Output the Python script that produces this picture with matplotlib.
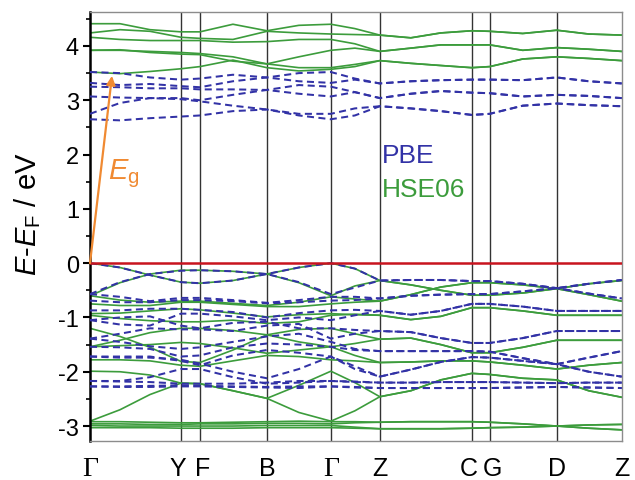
import matplotlib
matplotlib.use("Agg")
import matplotlib.pyplot as plt
import matplotlib.transforms as mtransforms
import numpy as np

plt.rcParams['font.family'] = ['Liberation Sans', 'DejaVu Sans']
plt.rcParams['mathtext.fontset'] = 'custom'
plt.rcParams['mathtext.rm'] = 'Liberation Sans'
plt.rcParams['mathtext.it'] = 'Liberation Sans:italic'
plt.rcParams['mathtext.bf'] = 'Liberation Sans:bold'

# ---------------- data ----------------
# high-symmetry points along the path (path length units)
kpt_labels = ['Γ', 'Y', 'F', 'B', 'Γ', 'Z', 'C', 'G', 'D', 'Z']
kpt_pos = [0, 91, 110, 177, 241, 290, 382, 400, 467, 532]

# k-samples at which band energies were read
k_samples = [0, 30, 60, 91, 110, 143, 177, 209, 241, 265, 290,
             321, 351, 382, 400, 433, 467, 499, 532]

# ---- conduction bands (eV) ----
hse_cb = [
    [4.41, 4.41, 4.30, 4.26, 4.26, 4.40, 4.28, 4.38, 4.40, 4.32, 4.20, 4.15, 4.24, 4.28, 4.27, 4.23, 4.29, 4.22, 4.20],
    [4.24, 4.30, 4.27, 4.16, 4.14, 4.12, 4.27, 4.24, 4.22, 4.21, 4.20, 4.15, 4.24, 4.28, 4.27, 4.23, 4.29, 4.22, 4.20],
    [4.16, 4.12, 4.10, 4.10, 4.10, 4.07, 4.08, 4.12, 4.12, 4.04, 3.90, 3.96, 4.02, 4.02, 4.02, 3.92, 3.97, 3.94, 3.90],
    [3.92, 3.93, 3.88, 3.85, 3.84, 3.72, 3.67, 3.80, 3.92, 3.96, 3.90, 3.96, 4.02, 4.02, 4.02, 3.92, 3.97, 3.94, 3.90],
    [3.92, 3.92, 3.90, 3.88, 3.86, 3.80, 3.67, 3.60, 3.60, 3.66, 3.73, 3.68, 3.64, 3.60, 3.62, 3.76, 3.80, 3.77, 3.73],
    [3.52, 3.49, 3.53, 3.58, 3.62, 3.74, 3.60, 3.54, 3.57, 3.62, 3.73, 3.68, 3.64, 3.60, 3.62, 3.76, 3.80, 3.77, 3.73],
]
pbe_cb = [
    [3.52, 3.50, 3.42, 3.38, 3.40, 3.47, 3.42, 3.50, 3.52, 3.40, 3.31, 3.35, 3.37, 3.38, 3.38, 3.37, 3.42, 3.35, 3.31],
    [3.32, 3.28, 3.30, 3.26, 3.24, 3.35, 3.42, 3.35, 3.32, 3.38, 3.31, 3.35, 3.37, 3.38, 3.38, 3.37, 3.42, 3.35, 3.31],
    [3.25, 3.24, 3.22, 3.22, 3.20, 3.20, 3.19, 3.28, 3.25, 3.15, 3.04, 3.12, 3.17, 3.14, 3.13, 3.07, 3.10, 3.08, 3.04],
    [3.07, 3.05, 3.04, 3.04, 3.00, 3.10, 3.19, 3.12, 3.07, 3.15, 3.04, 3.12, 3.17, 3.14, 3.13, 3.07, 3.10, 3.08, 3.04],
    [2.75, 2.95, 3.04, 3.02, 2.98, 2.90, 2.83, 2.75, 2.75, 2.85, 2.89, 2.85, 2.80, 2.73, 2.75, 2.90, 2.94, 2.91, 2.89],
    [2.65, 2.63, 2.67, 2.70, 2.72, 2.80, 2.83, 2.72, 2.65, 2.72, 2.89, 2.85, 2.80, 2.73, 2.75, 2.90, 2.94, 2.91, 2.89],
]

# ---- valence bands, PBE: Γ-Y-F-B-Γ-Z part (11 samples) ----
pbe_vb_left = [
    [0.00, -0.08, -0.22, -0.35, -0.37, -0.32, -0.20, -0.08, 0.00, -0.10, -0.32],
    [-0.57, -0.35, -0.20, -0.14, -0.13, -0.15, -0.20, -0.35, -0.57, -0.45, -0.32],
    [-0.57, -0.62, -0.70, -0.64, -0.64, -0.68, -0.73, -0.68, -0.62, -0.62, -0.65],
    [-0.69, -0.72, -0.72, -0.68, -0.68, -0.70, -0.74, -0.72, -0.69, -0.68, -0.65],
    [-0.87, -0.87, -0.84, -0.84, -0.86, -0.90, -1.00, -0.92, -0.87, -0.86, -0.88],
    [-1.05, -1.13, -1.15, -0.93, -0.93, -0.98, -1.05, -1.00, -1.05, -0.96, -0.88],
    [-1.05, -1.00, -0.98, -1.15, -1.20, -1.10, -1.08, -1.20, -1.20, -1.23, -1.25],
    [-1.39, -1.30, -1.20, -1.22, -1.22, -1.25, -1.15, -1.12, -1.39, -1.30, -1.25],
    [-1.39, -1.45, -1.53, -1.58, -1.55, -1.45, -1.35, -1.30, -1.45, -1.58, -1.62],
    [-1.54, -1.55, -1.58, -1.72, -1.70, -1.55, -1.48, -1.50, -1.54, -1.60, -1.62],
    [-1.72, -1.74, -1.74, -1.78, -1.85, -2.00, -2.12, -1.95, -1.72, -1.90, -2.09],
    [-1.72, -1.72, -1.72, -1.80, -1.88, -1.70, -1.60, -1.65, -1.72, -1.95, -2.09],
    [-2.17, -2.17, -2.10, -1.95, -1.95, -2.10, -2.22, -2.20, -2.17, -2.18, -2.20],
    [-2.17, -2.18, -2.19, -2.22, -2.22, -2.22, -2.20, -2.17, -2.17, -2.19, -2.20],
    [-2.27, -2.27, -2.26, -2.25, -2.26, -2.27, -2.28, -2.27, -2.27, -2.28, -2.30],
    [-2.27, -2.28, -2.28, -2.27, -2.27, -2.28, -2.29, -2.30, -2.27, -2.29, -2.30],
]
# Z-C-G-D-Z part (8 samples after Z), bands pairwise degenerate
pbe_vb_right = [
    [-0.31, -0.31, -0.33, -0.33, -0.38, -0.46, -0.56, -0.65],
    [-0.60, -0.58, -0.57, -0.57, -0.52, -0.46, -0.38, -0.31],
    [-0.95, -0.88, -0.75, -0.75, -0.80, -0.88, -0.88, -0.88],
    [-1.27, -1.38, -1.47, -1.47, -1.38, -1.25, -1.25, -1.25],
    [-1.62, -1.62, -1.62, -1.63, -1.75, -1.86, -1.74, -1.62],
    [-1.96, -1.82, -1.73, -1.74, -1.80, -1.86, -2.00, -2.09],
    [-2.20, -2.19, -2.19, -2.19, -2.20, -2.21, -2.20, -2.20],
    [-2.30, -2.30, -2.30, -2.30, -2.29, -2.28, -2.29, -2.30],
]

# ---- valence bands, HSE06 ----
hse_vb_left = [
    [0.00, -0.08, -0.22, -0.35, -0.37, -0.32, -0.20, -0.08, 0.00, -0.10, -0.32],
    [-0.60, -0.36, -0.20, -0.13, -0.13, -0.15, -0.20, -0.36, -0.60, -0.42, -0.32],
    [-0.60, -0.68, -0.72, -0.70, -0.70, -0.74, -0.78, -0.72, -0.62, -0.66, -0.70],
    [-0.75, -0.78, -0.78, -0.72, -0.72, -0.76, -0.80, -0.80, -0.75, -0.72, -0.70],
    [-0.93, -0.92, -0.88, -0.84, -0.86, -0.92, -0.99, -0.95, -0.93, -0.95, -0.96],
    [-0.96, -1.02, -1.06, -1.08, -1.08, -1.05, -1.11, -1.08, -0.96, -0.94, -0.96],
    [-1.20, -1.35, -1.55, -1.81, -1.83, -1.60, -1.32, -1.22, -1.20, -1.30, -1.40],
    [-1.54, -1.42, -1.28, -1.20, -1.20, -1.24, -1.32, -1.45, -1.54, -1.48, -1.40],
    [-1.54, -1.52, -1.50, -1.46, -1.48, -1.56, -1.66, -1.60, -1.54, -1.70, -1.83],
    [-1.78, -1.78, -1.80, -1.88, -1.90, -1.80, -1.70, -1.72, -1.78, -1.80, -1.83],
    [-1.99, -2.00, -2.06, -2.21, -2.22, -2.35, -2.49, -2.25, -1.99, -2.20, -2.46],
    [-2.91, -2.70, -2.42, -2.21, -2.22, -2.35, -2.49, -2.75, -2.91, -2.72, -2.46],
    [-2.92, -2.92, -2.93, -2.94, -2.94, -2.93, -2.92, -2.91, -2.92, -2.92, -2.93],
    [-2.96, -2.96, -2.97, -2.97, -2.96, -2.96, -2.95, -2.95, -2.96, -2.94, -2.93],
    [-2.99, -3.00, -3.00, -3.00, -3.00, -3.00, -2.99, -2.99, -2.99, -3.02, -3.05],
    [-3.03, -3.03, -3.03, -3.04, -3.04, -3.04, -3.03, -3.03, -3.03, -3.04, -3.05],
]
hse_vb_right = [
    [-0.40, -0.50, -0.59, -0.59, -0.55, -0.47, -0.58, -0.70],
    [-0.58, -0.44, -0.36, -0.36, -0.40, -0.47, -0.38, -0.32],
    [-1.04, -0.98, -0.82, -0.82, -0.88, -0.96, -0.96, -0.96],
    [-1.38, -1.50, -1.65, -1.65, -1.55, -1.42, -1.42, -1.42],
    [-1.82, -1.80, -1.80, -1.82, -1.88, -1.95, -1.88, -1.83],
    [-2.35, -2.15, -2.03, -2.05, -2.12, -2.15, -2.35, -2.47],
    [-2.92, -2.92, -2.92, -2.93, -2.96, -3.00, -2.98, -2.97],
    [-3.05, -3.05, -3.04, -3.03, -3.02, -3.00, -3.04, -3.07],
]

# band gap arrow: from VBM (Γ) to CBM
eg_start = (0, 0.0)
eg_end = (22, 3.45)

# ---------------- style ----------------
green = '#3c9c3c'
blue = '#3232a6'
red = '#c8141e'
orange = '#f08a32'

fig = plt.figure(figsize=(6.35, 4.81), dpi=100)
ax = fig.add_axes([90 / 635, 1 - 441.7 / 481, (621.7 - 90) / 635, (441.7 - 13.3) / 481])

ks = np.array(k_samples)

def full(left, right):
    return list(left) + list(right)

# HSE06 (solid green)
for b in hse_cb:
    ax.plot(ks, b, color=green, lw=1.2, solid_joinstyle='round', zorder=2)
for i, b in enumerate(hse_vb_left):
    ax.plot(ks, full(b, hse_vb_right[i // 2]), color=green, lw=1.2,
            solid_joinstyle='round', zorder=2)

# PBE (dashed blue)
dash = (0, (3.5, 2.2))
for b in pbe_cb:
    ax.plot(ks, b, color=blue, lw=1.45, ls=dash, zorder=3)
for i, b in enumerate(pbe_vb_left):
    ax.plot(ks, full(b, pbe_vb_right[i // 2]), color=blue, lw=1.45, ls=dash, zorder=3)

# high-symmetry lines
for p in kpt_pos[1:-1]:
    ax.axvline(p, color='#333333', lw=1.0, zorder=1)

# Fermi level
ax.axhline(0, color=red, lw=1.8, zorder=4)

# band-gap arrow
ax.annotate('', xy=eg_end, xytext=eg_start,
            arrowprops=dict(arrowstyle='-|>', color=orange, lw=1.6,
                            mutation_scale=13, shrinkA=0, shrinkB=0),
            zorder=5)
ax.text(0.034, 0.625, r'$E_\mathrm{g}$', color=orange, fontsize=21,
        transform=ax.transAxes, ha='left', va='center')

ax.text(0.549, 0.667, 'PBE', color=blue, fontsize=19,
        transform=ax.transAxes, ha='left', va='center')
ax.text(0.549, 0.588, 'HSE06', color=green, fontsize=19,
        transform=ax.transAxes, ha='left', va='center')

# axes
ax.set_xlim(kpt_pos[0], kpt_pos[-1])
ax.set_ylim(-3.27, 4.62)
ax.set_xticks(kpt_pos)
ax.set_xticklabels(kpt_labels, fontsize=18)
ax.tick_params(axis='x', length=0, pad=11)
# nudge the crowded neighbouring labels (Y|F and C|G) apart
shifts = {1: -3, 2: 3, 6: -3, 7: 3}
for i, lab in enumerate(ax.get_xticklabels()):
    if lab.get_text() == 'Γ':
        lab.set_fontfamily('Liberation Serif')
        lab.set_fontsize(20)
    if i in shifts:
        lab.set_transform(lab.get_transform() +
                          mtransforms.ScaledTranslation(shifts[i] / 100, 0, fig.dpi_scale_trans))

ax.set_yticks(range(-3, 5))
ax.set_yticklabels([str(v) for v in range(-3, 5)], fontsize=17)
ax.set_yticks(np.arange(-3, 4.6, 0.5), minor=True)
ax.tick_params(axis='y', which='major', direction='out', length=5, width=1.5, pad=3)
ax.tick_params(axis='y', which='minor', direction='out', length=3, width=1.2)

for s in ['top', 'right', 'bottom']:
    ax.spines[s].set_color('#8c8c8c')
    ax.spines[s].set_linewidth(1.0)
ax.spines['left'].set_color('black')
ax.spines['left'].set_linewidth(1.8)

ax.set_ylabel(r'$E$-$E_\mathrm{F}$ / eV', fontsize=21)
ax.yaxis.set_label_coords(-0.088, 0.53)

fig.savefig('out.png', dpi=100)
